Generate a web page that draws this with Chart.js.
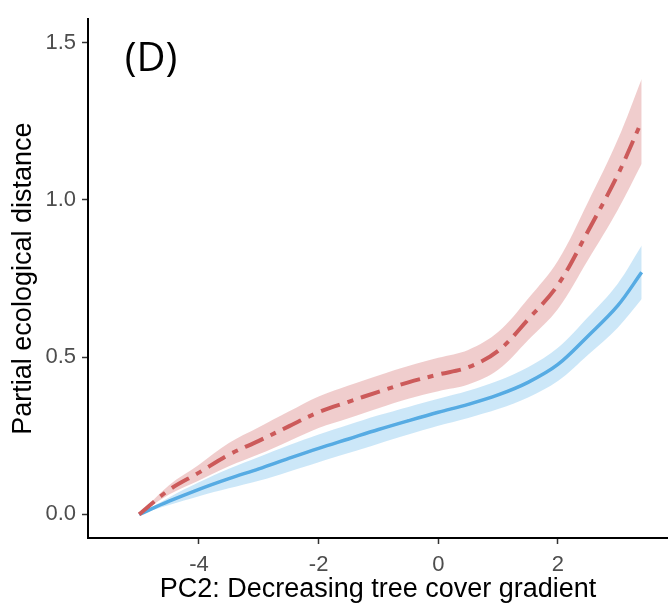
<!DOCTYPE html>
<html>
<head>
<meta charset="utf-8">
<script src="https://cdn.jsdelivr.net/npm/chart.js@4"></script>
<style>
    html, body { margin: 0; padding: 0; background: #fff; }
    #wrap { width: 668px; height: 608px; }
</style>
</head>
<body>
<div id="wrap"><canvas id="chart" width="668" height="608"></canvas></div>
<script>
// --- Data --- //
const pcX = [-5, -4.5, -4, -3.5, -3, -2.5, -2, -1.5, -1, -0.5, 0, 0.5, 1, 1.5, 2, 2.5, 3, 3.4];

const redFit   = [0, 0.078, 0.133, 0.19, 0.234, 0.28, 0.325, 0.358, 0.39, 0.42, 0.445, 0.468, 0.52, 0.62, 0.73, 0.90, 1.08, 1.25];
const redLower = [0, 0.063, 0.108, 0.153, 0.191, 0.233, 0.275, 0.306, 0.338, 0.368, 0.392, 0.413, 0.46, 0.554, 0.653, 0.808, 0.968, 1.115];
const redUpper = [0, 0.093, 0.158, 0.227, 0.277, 0.327, 0.375, 0.41, 0.442, 0.472, 0.498, 0.523, 0.58, 0.686, 0.807, 0.992, 1.192, 1.385];

const blueFit   = [0, 0.042, 0.08, 0.114, 0.145, 0.178, 0.21, 0.24, 0.27, 0.298, 0.325, 0.35, 0.38, 0.42, 0.477, 0.567, 0.664, 0.77];
const blueLower = [0, 0.030, 0.058, 0.083, 0.107, 0.136, 0.166, 0.195, 0.225, 0.254, 0.282, 0.307, 0.335, 0.372, 0.424, 0.507, 0.594, 0.685];
const blueUpper = [0, 0.054, 0.102, 0.145, 0.183, 0.22, 0.254, 0.285, 0.315, 0.342, 0.368, 0.393, 0.425, 0.468, 0.530, 0.627, 0.734, 0.855];

const xTicks = [-4, -2, 0, 2];
const yTicks = [0, 0.5, 1.0, 1.5];

const panelLabel = '(D)';
const xTitle = 'PC2: Decreasing tree cover gradient';
const yTitle = 'Partial ecological distance';

// --- Helpers --- //
function pts(ys) {
    return pcX.map((x, i) => ({ x: x, y: ys[i] }));
}

const RED = '#CC5A5A';
const RED_BAND = 'rgba(204, 90, 90, 0.3)';
const BLUE = '#56ABE3';
const BLUE_BAND = 'rgba(86, 176, 233, 0.3)';
const FONT = '"Liberation Sans", Arial, sans-serif';
const SMOOTH = 0.35;

const bandStyle = { borderWidth: 0, pointRadius: 0, tension: SMOOTH };

// draws the "(D)" tag in the top left corner
const panelLabelPlugin = {
    id: 'panelLabel',
    afterDraw(chart) {
        const ctx = chart.ctx;
        ctx.save();
        ctx.font = '40px "Open Sans", "Liberation Sans", sans-serif';
        ctx.fillStyle = '#000';
        ctx.textAlign = 'center';
        ctx.textBaseline = 'middle';
        ctx.fillText(panelLabel, 151, 60);
        ctx.restore();
    }
};

const ctx = document.getElementById('chart').getContext('2d');
new Chart(ctx, {
    type: 'line',
    data: {
        datasets: [
            { label: 'red lower', data: pts(redLower), fill: false, order: 3, ...bandStyle },
            { label: 'red upper', data: pts(redUpper), fill: '-1', backgroundColor: RED_BAND, order: 3, ...bandStyle },
            { label: 'blue lower', data: pts(blueLower), fill: false, order: 2, ...bandStyle },
            { label: 'blue upper', data: pts(blueUpper), fill: '-1', backgroundColor: BLUE_BAND, order: 2, ...bandStyle },
            {
                label: 'blue fit',
                data: pts(blueFit),
                borderColor: BLUE,
                borderWidth: 3.5,
                pointRadius: 0,
                fill: false,
                tension: SMOOTH,
                order: 1
            },
            {
                label: 'red fit',
                data: pts(redFit),
                borderColor: RED,
                borderWidth: 4,
                borderDash: [20, 8, 6, 8],
                pointRadius: 0,
                fill: false,
                tension: SMOOTH,
                order: 0
            }
        ]
    },
    options: {
        responsive: false,
        animation: false,
        layout: { padding: { top: 10, right: 0, left: 0, bottom: 0 } },
        plugins: {
            legend: { display: false },
            tooltip: { enabled: false }
        },
        scales: {
            x: {
                type: 'linear',
                min: -5.855,
                max: 3.84,
                afterBuildTicks: (scale) => { scale.ticks = xTicks.map(v => ({ value: v })); },
                afterFit: (scale) => { scale.height = 70; },
                grid: { drawOnChartArea: false, drawTicks: true, tickLength: 6, tickWidth: 1.5, color: '#333' },
                border: { display: true, color: '#000', width: 2 },
                ticks: {
                    color: '#4d4d4d',
                    font: { family: FONT, size: 22 },
                    padding: 8,
                    maxRotation: 0
                },
                title: {
                    display: true,
                    text: xTitle,
                    color: '#000',
                    font: { family: FONT, size: 27 },
                    padding: { top: 0, bottom: 2 }
                }
            },
            y: {
                type: 'linear',
                min: -0.075,
                max: 1.575,
                afterBuildTicks: (scale) => { scale.ticks = yTicks.map(v => ({ value: v })); },
                afterFit: (scale) => { scale.width = 88; },
                grid: { drawOnChartArea: false, drawTicks: true, tickLength: 6, tickWidth: 1.5, color: '#333' },
                border: { display: true, color: '#000', width: 2 },
                ticks: {
                    color: '#4d4d4d',
                    font: { family: FONT, size: 22 },
                    padding: 6,
                    callback: (v) => Number(v).toFixed(1)
                },
                title: {
                    display: true,
                    text: yTitle,
                    color: '#000',
                    font: { family: FONT, size: 27 },
                    padding: { top: 7, bottom: 0 }
                }
            }
        }
    },
    plugins: [panelLabelPlugin]
});
</script>
</body>
</html>
